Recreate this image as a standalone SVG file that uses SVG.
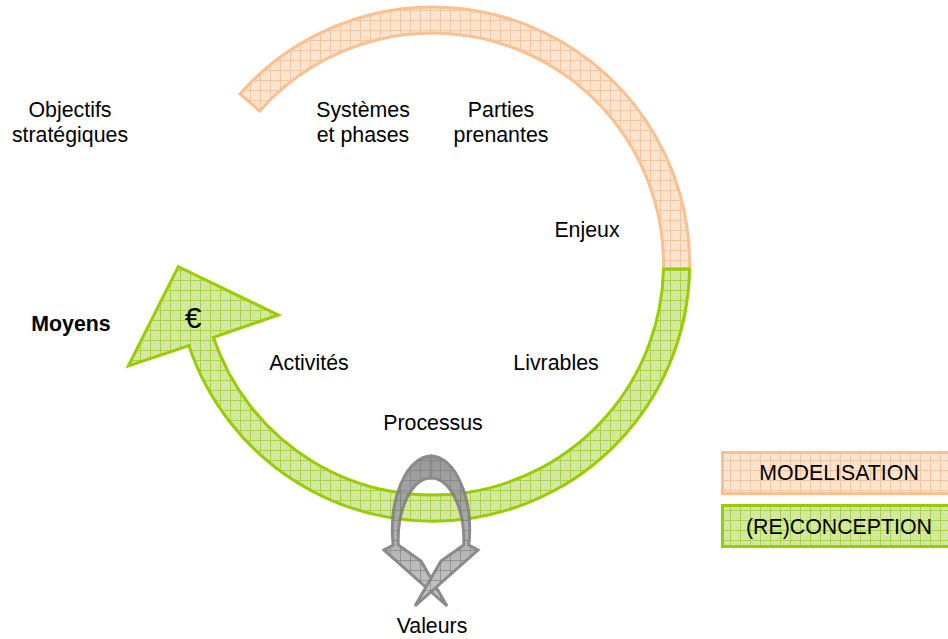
<svg xmlns="http://www.w3.org/2000/svg" width="948" height="639" viewBox="0 0 948 639">
<defs>
<pattern id="gridO" patternUnits="userSpaceOnUse" width="10" height="10">
<rect width="10" height="10" fill="#FDE4CF"/>
<path d="M0 0.5H10M0.5 0V10" stroke="#F8C59A" stroke-width="1"/>
<rect x="3" y="3" width="1" height="1" fill="#F9D3B2"/><rect x="7" y="7" width="1" height="1" fill="#F9D3B2"/>
</pattern>
<pattern id="gridG" patternUnits="userSpaceOnUse" width="10" height="10">
<rect width="10" height="10" fill="#D3E8A0"/>
<path d="M0 0.5H10M0.5 0V10" stroke="#A8D24A" stroke-width="1"/>
<rect x="3" y="3" width="1" height="1" fill="#BEDD78"/><rect x="7" y="7" width="1" height="1" fill="#BEDD78"/>
</pattern>
<pattern id="gridK" patternUnits="userSpaceOnUse" width="10" height="10">
<path d="M0 0.5H10M0.5 0V10" stroke="#6E6E6E" stroke-width="1" stroke-opacity="0.6"/>
</pattern>
<linearGradient id="greyGrad" x1="0" y1="456" x2="0" y2="607" gradientUnits="userSpaceOnUse">
<stop offset="0" stop-color="#8E8E8E"/>
<stop offset="1" stop-color="#C2C2C2"/>
</linearGradient>
<style>
.t{font-family:"Liberation Sans",Arial,sans-serif;font-size:21.33px;fill:#000;text-anchor:middle}
.b{font-weight:bold}
.o{fill:url(#gridO);stroke:#FAC090;stroke-width:3;stroke-linejoin:miter}
.g{fill:url(#gridG);stroke:#99CC00;stroke-width:3;stroke-linejoin:miter}
.k{stroke:#7F7F7F;stroke-width:3;stroke-linejoin:miter}
</style>
</defs>
<rect width="948" height="639" fill="#fff"/>
<g id="connectors">
<path id="arc-modelisation" class="o" d="M240.1 93.8A257 257 0 0 1 689.6 269L663.5 269A231 231 0 0 0 259.6 111Z"/>
<path id="arc-reconception" class="g" d="M689.6 269A257 257 0 0 1 188.9 345.6L128.3 366L178.3 266.7L278.3 315L213.5 337.4A231 231 0 0 0 663.5 269Z"/>
<g id="valeurs-loop" opacity="0.9">
<path id="loop-left" class="k" fill="url(#greyGrad)" d="M431 456A39 74 0 0 0 393.2 545L384 550L447 606L421 561L398.3 545A33 62 0 0 1 431 478Z"/>
<path fill="url(#gridK)" d="M431 456A39 74 0 0 0 393.2 545L384 550L447 606L421 561L398.3 545A33 62 0 0 1 431 478Z"/>
<path id="loop-right" class="k" fill="url(#greyGrad)" d="M431 456A39 74 0 0 1 468.8 545L478 550L415 606L441 561L463.7 545A33 62 0 0 0 431 478Z"/>
<path fill="url(#gridK)" d="M431 456A39 74 0 0 1 468.8 545L478 550L415 606L441 561L463.7 545A33 62 0 0 0 431 478Z"/>
</g>
</g>
<g id="node-objectifs"><text class="t" x="70" y="117">Objectifs</text><text class="t" x="70" y="142">stratégiques</text></g>
<g id="node-systemes"><text class="t" x="363" y="117">Systèmes</text><text class="t" x="363" y="142">et phases</text></g>
<g id="node-parties"><text class="t" x="501" y="117">Parties</text><text class="t" x="501" y="142">prenantes</text></g>
<g id="node-enjeux"><text class="t" x="587" y="237">Enjeux</text></g>
<g id="node-moyens"><text class="t b" x="71" y="331">Moyens</text></g>
<g id="node-euro"><text class="t" x="193" y="328" style="font-size:30px">€</text></g>
<g id="node-activites"><text class="t" x="309" y="370">Activités</text></g>
<g id="node-livrables"><text class="t" x="556" y="370">Livrables</text></g>
<g id="node-processus"><text class="t" x="433" y="430">Processus</text></g>
<g id="node-valeurs"><text class="t" x="432" y="633">Valeurs</text></g>
<g id="legend-modelisation"><rect class="o" x="722.5" y="452.5" width="240" height="41"/><text class="t" x="839" y="480">MODELISATION</text></g>
<g id="legend-reconception"><rect class="g" x="722.5" y="505.5" width="240" height="41"/><text class="t" x="839" y="534">(RE)CONCEPTION</text></g>
</svg>
